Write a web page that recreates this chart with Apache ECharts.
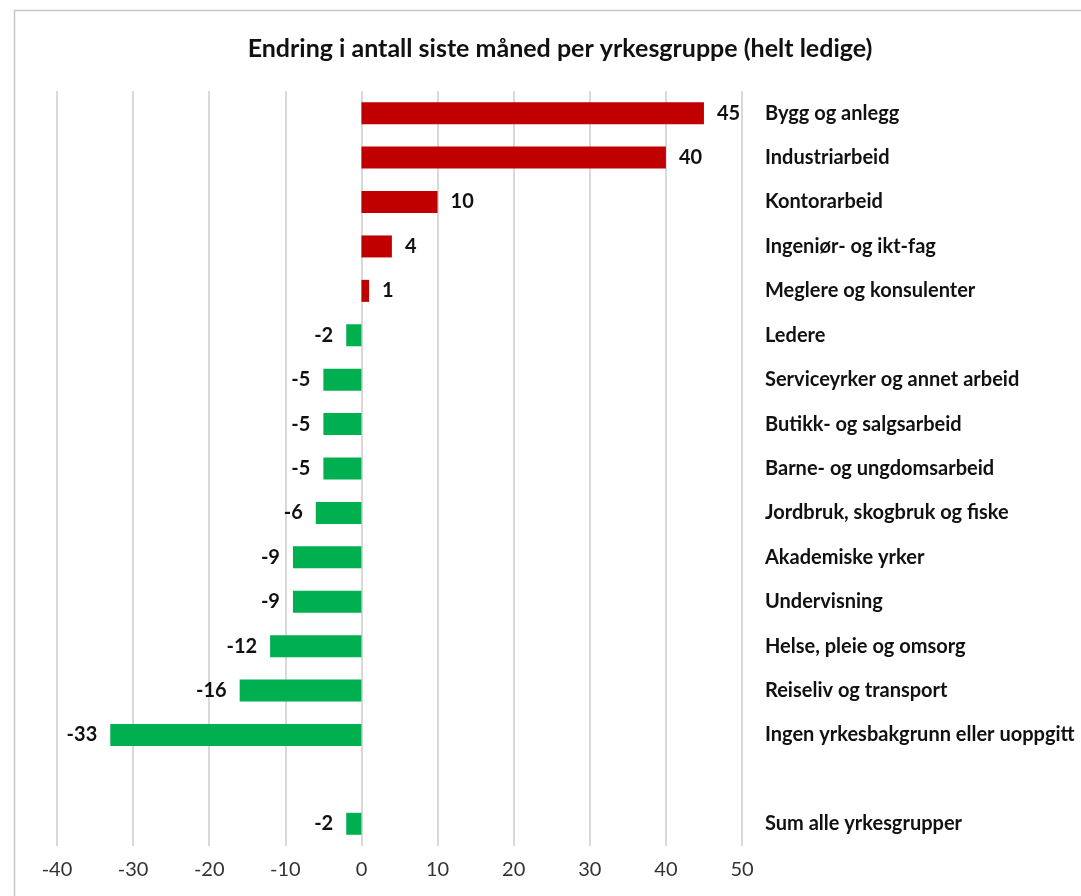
<!DOCTYPE html>
<html>
<head>
<meta charset="utf-8">
<script src="https://cdn.jsdelivr.net/npm/echarts@6/dist/echarts.min.js"></script>
<style>
  html, body { margin: 0; padding: 0; background: #fff; }
  #chart { width: 1081px; height: 896px; }
</style>
</head>
<body>
<div id="chart"></div>
<script>
// yrkesgrupper, ovenfra og ned
const categories = [
  'Bygg og anlegg', 'Industriarbeid', 'Kontorarbeid', 'Ingeniør- og ikt-fag',
  'Meglere og konsulenter', 'Ledere', 'Serviceyrker og annet arbeid',
  'Butikk- og salgsarbeid', 'Barne- og ungdomsarbeid', 'Jordbruk, skogbruk og fiske',
  'Akademiske yrker', 'Undervisning', 'Helse, pleie og omsorg',
  'Reiseliv og transport', 'Ingen yrkesbakgrunn eller uoppgitt', '',
  'Sum alle yrkesgrupper'
];
const values = [45, 40, 10, 4, 1, -2, -5, -5, -5, -6, -9, -9, -12, -16, -33, null, -2];
const xTicks = { min: -40, max: 50, interval: 10 };

const font = 'Lato, "Open Sans", sans-serif';
const chart = echarts.init(document.getElementById('chart'));

const seriesData = values.map(function (v) {
  if (v === null) return null;
  return {
    value: v,
    itemStyle: { color: v >= 0 ? '#C00000' : '#00B050' },
    label: { position: v >= 0 ? 'right' : 'left' }
  };
});

var option = {
  backgroundColor: '#ffffff',
  animation: false,
  title: {
    text: 'Endring i antall siste måned per yrkesgruppe (helt ledige)',
    left: 555,
    top: 31,
    textAlign: 'center',
    textStyle: { fontFamily: font, fontSize: 25, fontWeight: 'bold', color: '#111' }
  },
  graphic: [{
    type: 'rect',
    shape: { x: 14.5, y: 10.5, width: 1200, height: 1000 },
    style: { fill: 'none', stroke: '#c8c8c8', lineWidth: 1.5 },
    silent: true
  }],
  grid: { left: 57, right: 339, top: 91, height: 755 },
  xAxis: {
    type: 'value',
    min: xTicks.min,
    max: xTicks.max,
    interval: xTicks.interval,
    axisLine: { show: false },
    axisTick: { show: false },
    splitLine: { lineStyle: { color: '#d9d9d9', width: 2 } },
    axisLabel: { fontFamily: font, fontSize: 20, color: '#333', margin: 14 }
  },
  yAxis: {
    type: 'category',
    data: categories,
    inverse: true,
    position: 'right',
    axisLine: { show: false },
    axisTick: { show: false },
    axisLabel: {
      fontFamily: font, fontSize: 20, fontWeight: 'bold', color: '#111',
      margin: 23, align: 'left'
    }
  },
  series: [{
    type: 'bar',
    data: seriesData,
    barWidth: 22,
    label: {
      show: true,
      distance: 13,
      fontFamily: font, fontSize: 20, fontWeight: 'bold', color: '#111'
    }
  }]
};

chart.setOption(option);
</script>
</body>
</html>
